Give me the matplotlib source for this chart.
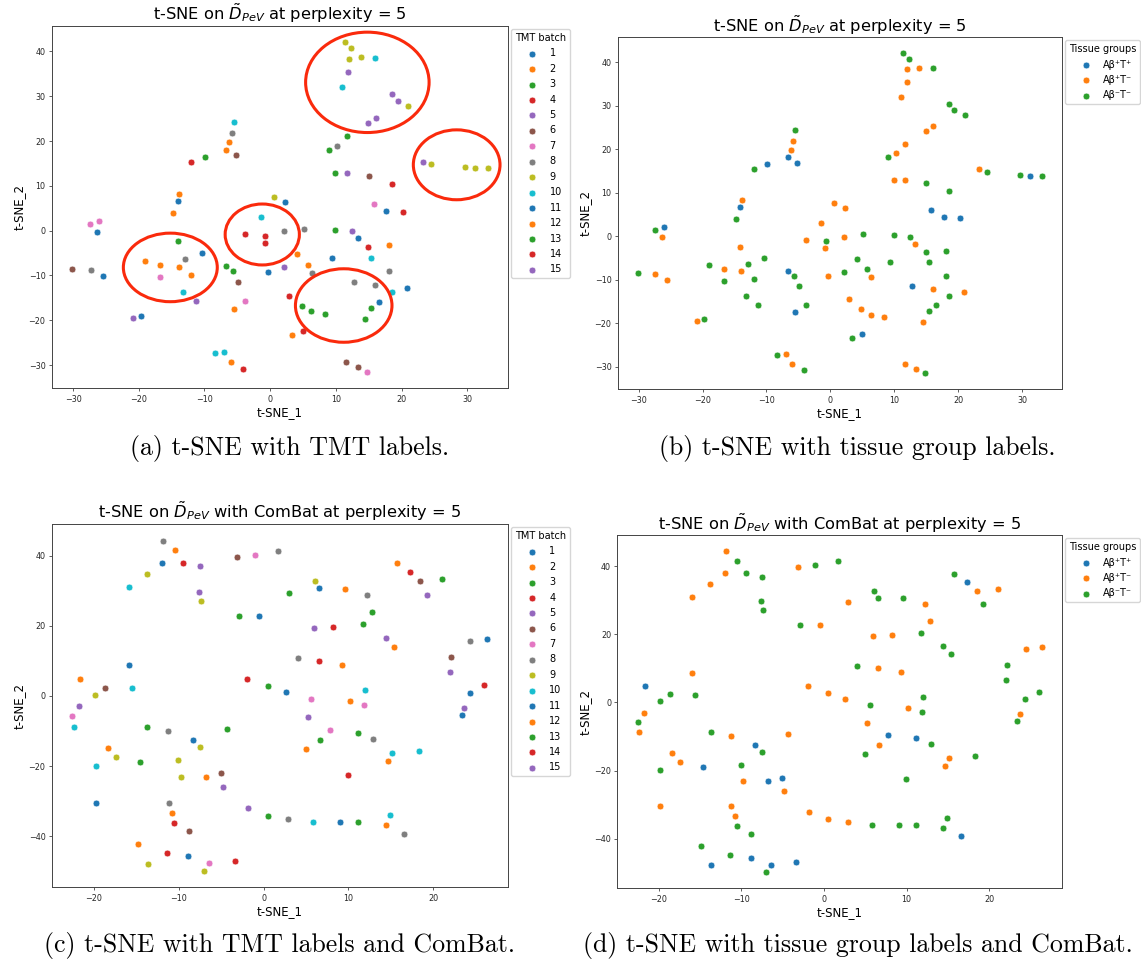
import numpy as np
import matplotlib
matplotlib.use('Agg')
import matplotlib.pyplot as plt
from matplotlib.patches import Ellipse
from matplotlib.ticker import MultipleLocator

W, H, DPI = 1141, 963, 100

# ---- t-SNE embedding of the raw data (perplexity 5) ----
raw_x = [-5.48, -5.83, -6.19, -6.65, -5.22, -12.0, -9.94, 0.56, 2.23, -13.85,
         -14.1, -14.8, 11.4, 12.3, 12.0, 13.85, 16.0, 11.9, 11.0, 18.6,
         19.4, 21.05, 16.1, 14.9, 11.7, 10.2, 8.98, 23.3, 24.5, 29.6,
         31.25, 33.1, 9.9, 11.7, 15.0, 18.6, 15.8, 17.7, 20.2, -27.4,
         -26.0, -26.3, -1.42, -3.76, -0.71, -0.81, 2.08, -14.1, -10.4, -19.0,
         -16.7, -12.9, -13.95, -12.0, -16.7, -13.2, -11.3, -30.1, -27.35, -25.5,
         -20.9, -19.7, -6.65, -5.73, -4.92, -0.35, 2.08, 2.85, -3.85, -5.48,
         -8.42, -7.0, -5.94, -4.11, 5.13, 9.9, 12.4, 13.3, 14.9, 18.1,
         4.16, 9.39, 15.4, 5.73, 6.34, 18.1, 12.8, 16.0, 18.6, 20.85,
         4.82, 6.29, 8.37, 16.5, 15.4, 14.5, 3.4, 4.97, 11.6, 13.45,
         14.8]
raw_y = [24.3, 21.8, 19.8, 18.1, 16.8, 15.4, 16.5, 7.6, 6.5, 8.2,
         6.7, 3.9, 42.0, 40.8, 38.3, 38.7, 38.6, 35.5, 32.0, 30.4,
         29.0, 27.9, 25.2, 24.05, 21.2, 19.0, 18.1, 15.4, 14.8, 14.1,
         13.9, 13.9, 12.8, 12.8, 12.25, 10.4, 5.9, 4.5, 4.2, 1.5,
         2.1, -0.2, 3.05, -0.8, -1.2, -2.8, -0.15, -2.4, -5.0, -6.7,
         -7.65, -6.3, -8.1, -9.9, -10.4, -13.7, -15.7, -8.5, -8.8, -10.1,
         -19.5, -19.0, -7.9, -9.05, -11.4, -9.2, -8.2, -14.5, -15.7, -17.4,
         -27.2, -27.0, -29.4, -30.8, 0.4, 0.2, -0.15, -1.7, -3.6, -3.3,
         -5.2, -6.0, -6.0, -7.6, -9.4, -9.05, -11.5, -12.1, -13.7, -12.9,
         -16.8, -18.0, -18.5, -15.9, -17.3, -19.7, -23.3, -22.4, -29.4, -30.5,
         -31.5]
raw_tmt = [10, 8, 2, 2, 6, 4, 3, 9, 1, 2,
           1, 2, 9, 9, 9, 9, 10, 5, 10, 5,
           5, 9, 5, 5, 3, 8, 3, 5, 9, 9,
           9, 9, 3, 15, 6, 4, 7, 11, 4, 7,
           7, 1, 10, 14, 14, 14, 8, 3, 1, 12,
           12, 8, 12, 12, 7, 10, 15, 6, 8, 1,
           15, 1, 3, 3, 6, 11, 15, 4, 7, 2,
           10, 10, 2, 4, 8, 13, 15, 11, 14, 12,
           12, 11, 10, 12, 8, 8, 8, 8, 10, 11,
           13, 13, 13, 11, 13, 13, 2, 14, 6, 6,
           7]
# 0 = Aβ+T+, 1 = Aβ+T-, 2 = Aβ-T-
raw_tissue = [2, 1, 1, 0, 0, 2, 0, 1, 1, 1,
              0, 2, 2, 2, 1, 1, 2, 1, 1, 2,
              2, 2, 1, 1, 1, 1, 2, 1, 2, 2,
              0, 2, 1, 1, 2, 2, 0, 0, 0, 2,
              0, 1, 1, 1, 2, 1, 1, 1, 2, 2,
              1, 2, 1, 2, 2, 2, 2, 2, 1, 1,
              1, 2, 0, 2, 2, 1, 2, 1, 2, 0,
              2, 1, 1, 2, 2, 2, 2, 1, 2, 2,
              2, 2, 2, 2, 1, 2, 0, 1, 2, 1,
              1, 1, 1, 2, 2, 1, 2, 0, 1, 1,
              2]

# ---- t-SNE embedding after ComBat batch correction ----
cb_x = [-11.85, -10.47, -11.97, -9.45, -7.48, -13.8, -15.9, -7.67, -7.4, -3.15,
        -1.06, 1.7, -2.95, -0.52, -15.9, -21.7, -18.65, -15.55, -19.83, -21.8,
        -22.55, -22.4, -1.97, 0.51, 2.6, -13.7, -11.3, -4.33, -8.3, -7.52,
        -18.4, -17.4, -14.6, -19.8, -10.04, -9.76, -6.78, -5.04, -4.77, -19.8,
        -11.2, -10.75, -10.55, -8.82, -1.85, 0.51, -14.85, -11.35, -8.86, -13.66,
        -6.42, -7.05, -3.35, 15.74, 17.3, 18.5, 21.1, 19.3, 6.1, 6.56,
        9.6, 12.2, 2.95, 12.8, 11.7, 6.0, 8.2, 14.4, 15.4, 24.4,
        26.4, 4.05, 6.53, 9.28, 22.15, 22.0, 26.05, 24.35, 23.7, 23.4,
        12.0, 5.59, 10.2, 11.9, 5.27, 7.8, 6.65, 11.2, 12.9, 4.99,
        15.15, 18.3, 14.7, 9.99, 2.91, 5.79, 9.05, 11.1, 14.9, 14.4,
        16.6]
cb_y = [44.3, 41.5, 38.0, 38.0, 36.9, 34.8, 31.0, 29.7, 27.1, 39.7,
        40.3, 41.4, 22.7, 22.7, 8.7, 4.8, 2.35, 2.3, 0.28, -2.96,
        -5.8, -8.8, 4.8, 2.85, 1.1, -8.7, -9.9, -9.4, -12.45, -14.4,
        -14.8, -17.4, -18.8, -19.9, -18.3, -23.1, -23.1, -22.05, -25.9, -30.4,
        -30.4, -33.2, -36.2, -38.6, -32.0, -34.3, -42.1, -44.8, -45.6, -47.8,
        -47.6, -49.8, -46.9, 37.8, 35.3, 32.7, 33.3, 28.8, 32.7, 30.7,
        30.5, 28.8, 29.4, 23.8, 20.5, 19.4, 19.8, 16.4, 14.1, 15.75,
        16.3, 10.7, 10.1, 8.9, 11.1, 6.7, 3.1, 0.94, -3.4, -5.4,
        1.6, -0.85, -1.54, -2.7, -6.1, -9.6, -12.6, -10.45, -12.2, -15.0,
        -16.2, -15.7, -18.5, -22.4, -35.15, -35.8, -35.8, -35.8, -33.8, -36.7,
        -39.3]
cb_tmt = [8, 2, 1, 4, 5, 9, 10, 5, 9, 6,
          7, 8, 3, 1, 1, 2, 6, 10, 9, 5,
          7, 10, 4, 3, 1, 3, 8, 3, 1, 9,
          2, 9, 3, 10, 9, 9, 2, 6, 5, 1,
          8, 2, 4, 6, 5, 3, 2, 4, 11, 9,
          7, 9, 4, 2, 14, 6, 3, 5, 9, 11,
          12, 8, 13, 13, 13, 15, 14, 15, 12, 8,
          11, 8, 14, 12, 6, 15, 14, 11, 15, 11,
          10, 7, 12, 7, 15, 7, 13, 13, 8, 12,
          10, 10, 12, 14, 8, 10, 11, 13, 10, 12,
          8]
cb_tissue = [1, 2, 1, 2, 2, 1, 1, 2, 2, 1,
             2, 2, 2, 1, 1, 0, 2, 2, 2, 1,
             2, 1, 1, 1, 1, 2, 1, 1, 0, 2,
             1, 1, 0, 2, 2, 1, 0, 0, 1, 1,
             1, 1, 2, 2, 1, 1, 2, 2, 0, 0,
             0, 2, 0, 2, 0, 1, 1, 2, 2, 2,
             2, 1, 1, 1, 2, 1, 1, 2, 2, 1,
             1, 2, 1, 1, 2, 2, 2, 2, 1, 2,
             2, 2, 1, 2, 1, 0, 1, 0, 2, 2,
             1, 2, 1, 2, 1, 2, 2, 2, 2, 2,
             0]

TMT_BATCHES = list(range(1, 16))
TISSUE_GROUPS = ['Aβ⁺T⁺', 'Aβ⁺T⁻', 'Aβ⁻T⁻']

# batch clusters circled on the raw TMT panel: (x, y, width, height) in data units
HIGHLIGHTS = [(14.8, 33.1, 18.8, 22.4), (28.4, 14.7, 13.2, 15.6),
              (-1.2, -0.85, 11.3, 13.6), (-15.2, -8.2, 14.3, 15.3),
              (11.2, -16.7, 14.7, 16.4)]

TAB10 = plt.get_cmap('tab10').colors
TITLE_RAW = r't-SNE on $\tilde{D}_{PeV}$ at perplexity = 5'
TITLE_CB = r't-SNE on $\tilde{D}_{PeV}$ with ComBat at perplexity = 5'


def px_rect(left, top, right, bottom):
    return [left / W, 1 - bottom / H, (right - left) / W, (bottom - top) / H]


def tsne_panel(ax, x, y, labels, classes, names, colors, title, legend_title, ystep):
    x, y, labels = np.asarray(x), np.asarray(y), np.asarray(labels)
    for cls, name, col in zip(classes, names, colors):
        m = labels == cls
        ax.scatter(x[m], y[m], s=24, color=col, edgecolors='white',
                   linewidths=0.45, label=name, zorder=3)
    ax.set_title(title, fontsize=11.7, pad=4)
    ax.set_xlabel('t-SNE_1', fontsize=8.5, labelpad=2)
    ax.set_ylabel('t-SNE_2', fontsize=8.5, labelpad=2)
    ax.xaxis.set_major_locator(MultipleLocator(10))
    ax.yaxis.set_major_locator(MultipleLocator(ystep))
    ax.tick_params(labelsize=5.8, length=2.5, width=0.6, pad=2,
                   color='#444444', labelcolor='#262626')
    for sp in ax.spines.values():
        sp.set_linewidth(0.7)
        sp.set_color('#444444')
    ax.legend(title=legend_title, loc='upper left', bbox_to_anchor=(1, 1),
              borderaxespad=0.3, fontsize=7.0, title_fontsize=7.0,
              handlelength=2.6, handletextpad=0.5, labelspacing=0.56,
              borderpad=0.4)


fig = plt.figure(figsize=(W / DPI, H / DPI), dpi=DPI)

tmt_colors = [TAB10[(b - 1) % 10] for b in TMT_BATCHES]
tmt_names = [str(b) for b in TMT_BATCHES]

ax_a = fig.add_axes(px_rect(51.7, 26, 508.3, 388.3))
tsne_panel(ax_a, raw_x, raw_y, raw_tmt, TMT_BATCHES, tmt_names, tmt_colors,
           TITLE_RAW, 'TMT batch', 10)
for cx, cy, w, h in HIGHLIGHTS:
    ax_a.add_artist(Ellipse((cx, cy), w, h, fill=False, edgecolor='#fa2a0c',
                            linewidth=2.2, zorder=5))

ax_b = fig.add_axes(px_rect(617.7, 37.3, 1062.3, 389.3))
tsne_panel(ax_b, raw_x, raw_y, raw_tissue, [0, 1, 2], TISSUE_GROUPS, TAB10[:3],
           TITLE_RAW, 'Tissue groups', 10)

ax_c = fig.add_axes(px_rect(51.7, 524, 508, 887.3))
tsne_panel(ax_c, cb_x, cb_y, cb_tmt, TMT_BATCHES, tmt_names, tmt_colors,
           TITLE_CB, 'TMT batch', 20)

ax_d = fig.add_axes(px_rect(617.3, 535.3, 1062.3, 888.3))
tsne_panel(ax_d, cb_x, cb_y, cb_tissue, [0, 1, 2], TISSUE_GROUPS, TAB10[:3],
           TITLE_CB, 'Tissue groups', 20)

captions = [
    ('(a) t-SNE with TMT labels.', 290, 448),
    ('(b) t-SNE with tissue group labels.', 857, 448),
    ('(c) t-SNE with TMT labels and ComBat.', 280, 945),
    ('(d) t-SNE with tissue group labels and ComBat.', 858, 945),
]
for text, cx, cy in captions:
    fig.text(cx / W, 1 - cy / H, text, ha='center', va='center',
             fontsize=18.6, family='cmr10')

fig.savefig('out.png', dpi=DPI)
